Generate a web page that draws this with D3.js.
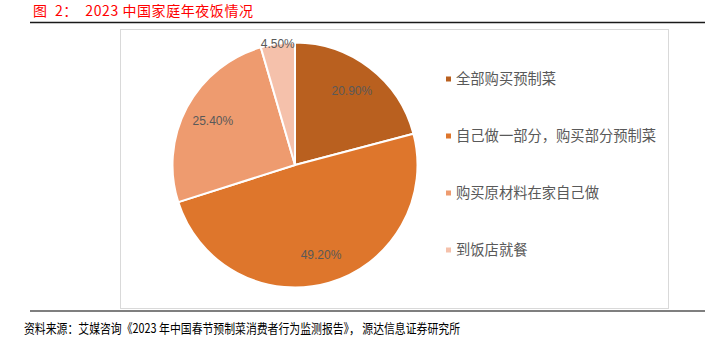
<!DOCTYPE html>
<html><head><meta charset="utf-8">
<script src="https://cdn.jsdelivr.net/npm/d3@7/dist/d3.min.js"></script>
<style>body{margin:0;background:#fff;} svg{display:block;}</style>
</head><body>
<svg id="c" width="708" height="355"></svg>
<script>
const categories = ["全部购买预制菜", "自己做一部分，购买部分预制菜", "购买原材料在家自己做", "到饭店就餐"];
const values = [20.9, 49.2, 25.4, 4.5];
const colors = ["#B9601F", "#DE762C", "#EE9B6F", "#F5C1AB"];
const titleText = "图  2：  2023 中国家庭年夜饭情况";
const sourceText = "资料来源：艾媒咨询《2023 年中国春节预制菜消费者行为监测报告》， 源达信息证券研究所";

const svg = d3.select("#c");
const cjk = "'Noto Sans CJK SC', 'Noto Sans', sans-serif";
const lat = "'Liberation Sans', Arial, sans-serif";

svg.append("text").attr("x", 33).attr("y", 16).attr("fill", "#FF0000")
  .attr("font-family", cjk).attr("font-size", 14).attr("xml:space","preserve")
  .attr("textLength", 220).attr("lengthAdjust", "spacing").text(titleText);
svg.append("line").attr("x1", 30).attr("x2", 705).attr("y1", 22.5).attr("y2", 22.5)
  .attr("stroke", "#1a1a1a").attr("stroke-width", 1.5);

svg.append("rect").attr("x", 120.5).attr("y", 29.5).attr("width", 548).attr("height", 279)
  .attr("fill", "#fff").attr("stroke", "#D9D9D9").attr("stroke-width", 1);

svg.append("line").attr("x1", 30).attr("x2", 705).attr("y1", 311).attr("y2", 311)
  .attr("stroke", "#7f7f7f").attr("stroke-width", 2);
svg.append("text").attr("x", 24).attr("y", 333).attr("fill", "#000")
  .attr("font-family", cjk).attr("font-size", 13).attr("xml:space","preserve")
  .attr("textLength", 436).attr("lengthAdjust", "spacingAndGlyphs").text(sourceText);

const cx = 295, cy = 165, r = 122.5;
const pie = d3.pie().sort(null).value(d => d)(values);
const arc = d3.arc().innerRadius(0).outerRadius(r);
const g = svg.append("g").attr("transform", `translate(${cx},${cy})`);
g.selectAll("path").data(pie).join("path")
  .attr("d", arc).attr("fill", (d, i) => colors[i])
  .attr("stroke", "#fff").attr("stroke-width", 2).attr("stroke-linejoin", "round");

g.selectAll("text.lbl").data(pie).join("text").attr("class", "lbl")
  .attr("transform", d => {
    const a = (d.startAngle + d.endAngle) / 2;
    const rr = (d.endAngle - d.startAngle) < 0.4 ? r * 1.0 : r * 0.76;
    return `translate(${Math.sin(a) * rr},${-Math.cos(a) * rr})`;
  })
  .attr("text-anchor", "middle").attr("dy", "0.35em")
  .attr("font-family", lat).attr("font-size", 12).attr("fill", "#595959")
  .text(d => d.value.toFixed(2) + "%");

const legY = d3.scalePoint().domain(categories).range([79, 250]);
const leg = svg.append("g");
categories.forEach((c, i) => {
  leg.append("rect").attr("x", 446).attr("y", legY(c) - 2.5).attr("width", 5).attr("height", 5).attr("fill", colors[i]);
  leg.append("text").attr("x", 456).attr("y", legY(c)).attr("dy", "0.36em")
    .attr("font-family", cjk).attr("font-size", 14.3).attr("fill", "#595959").text(c);
});
</script>
</body></html>
